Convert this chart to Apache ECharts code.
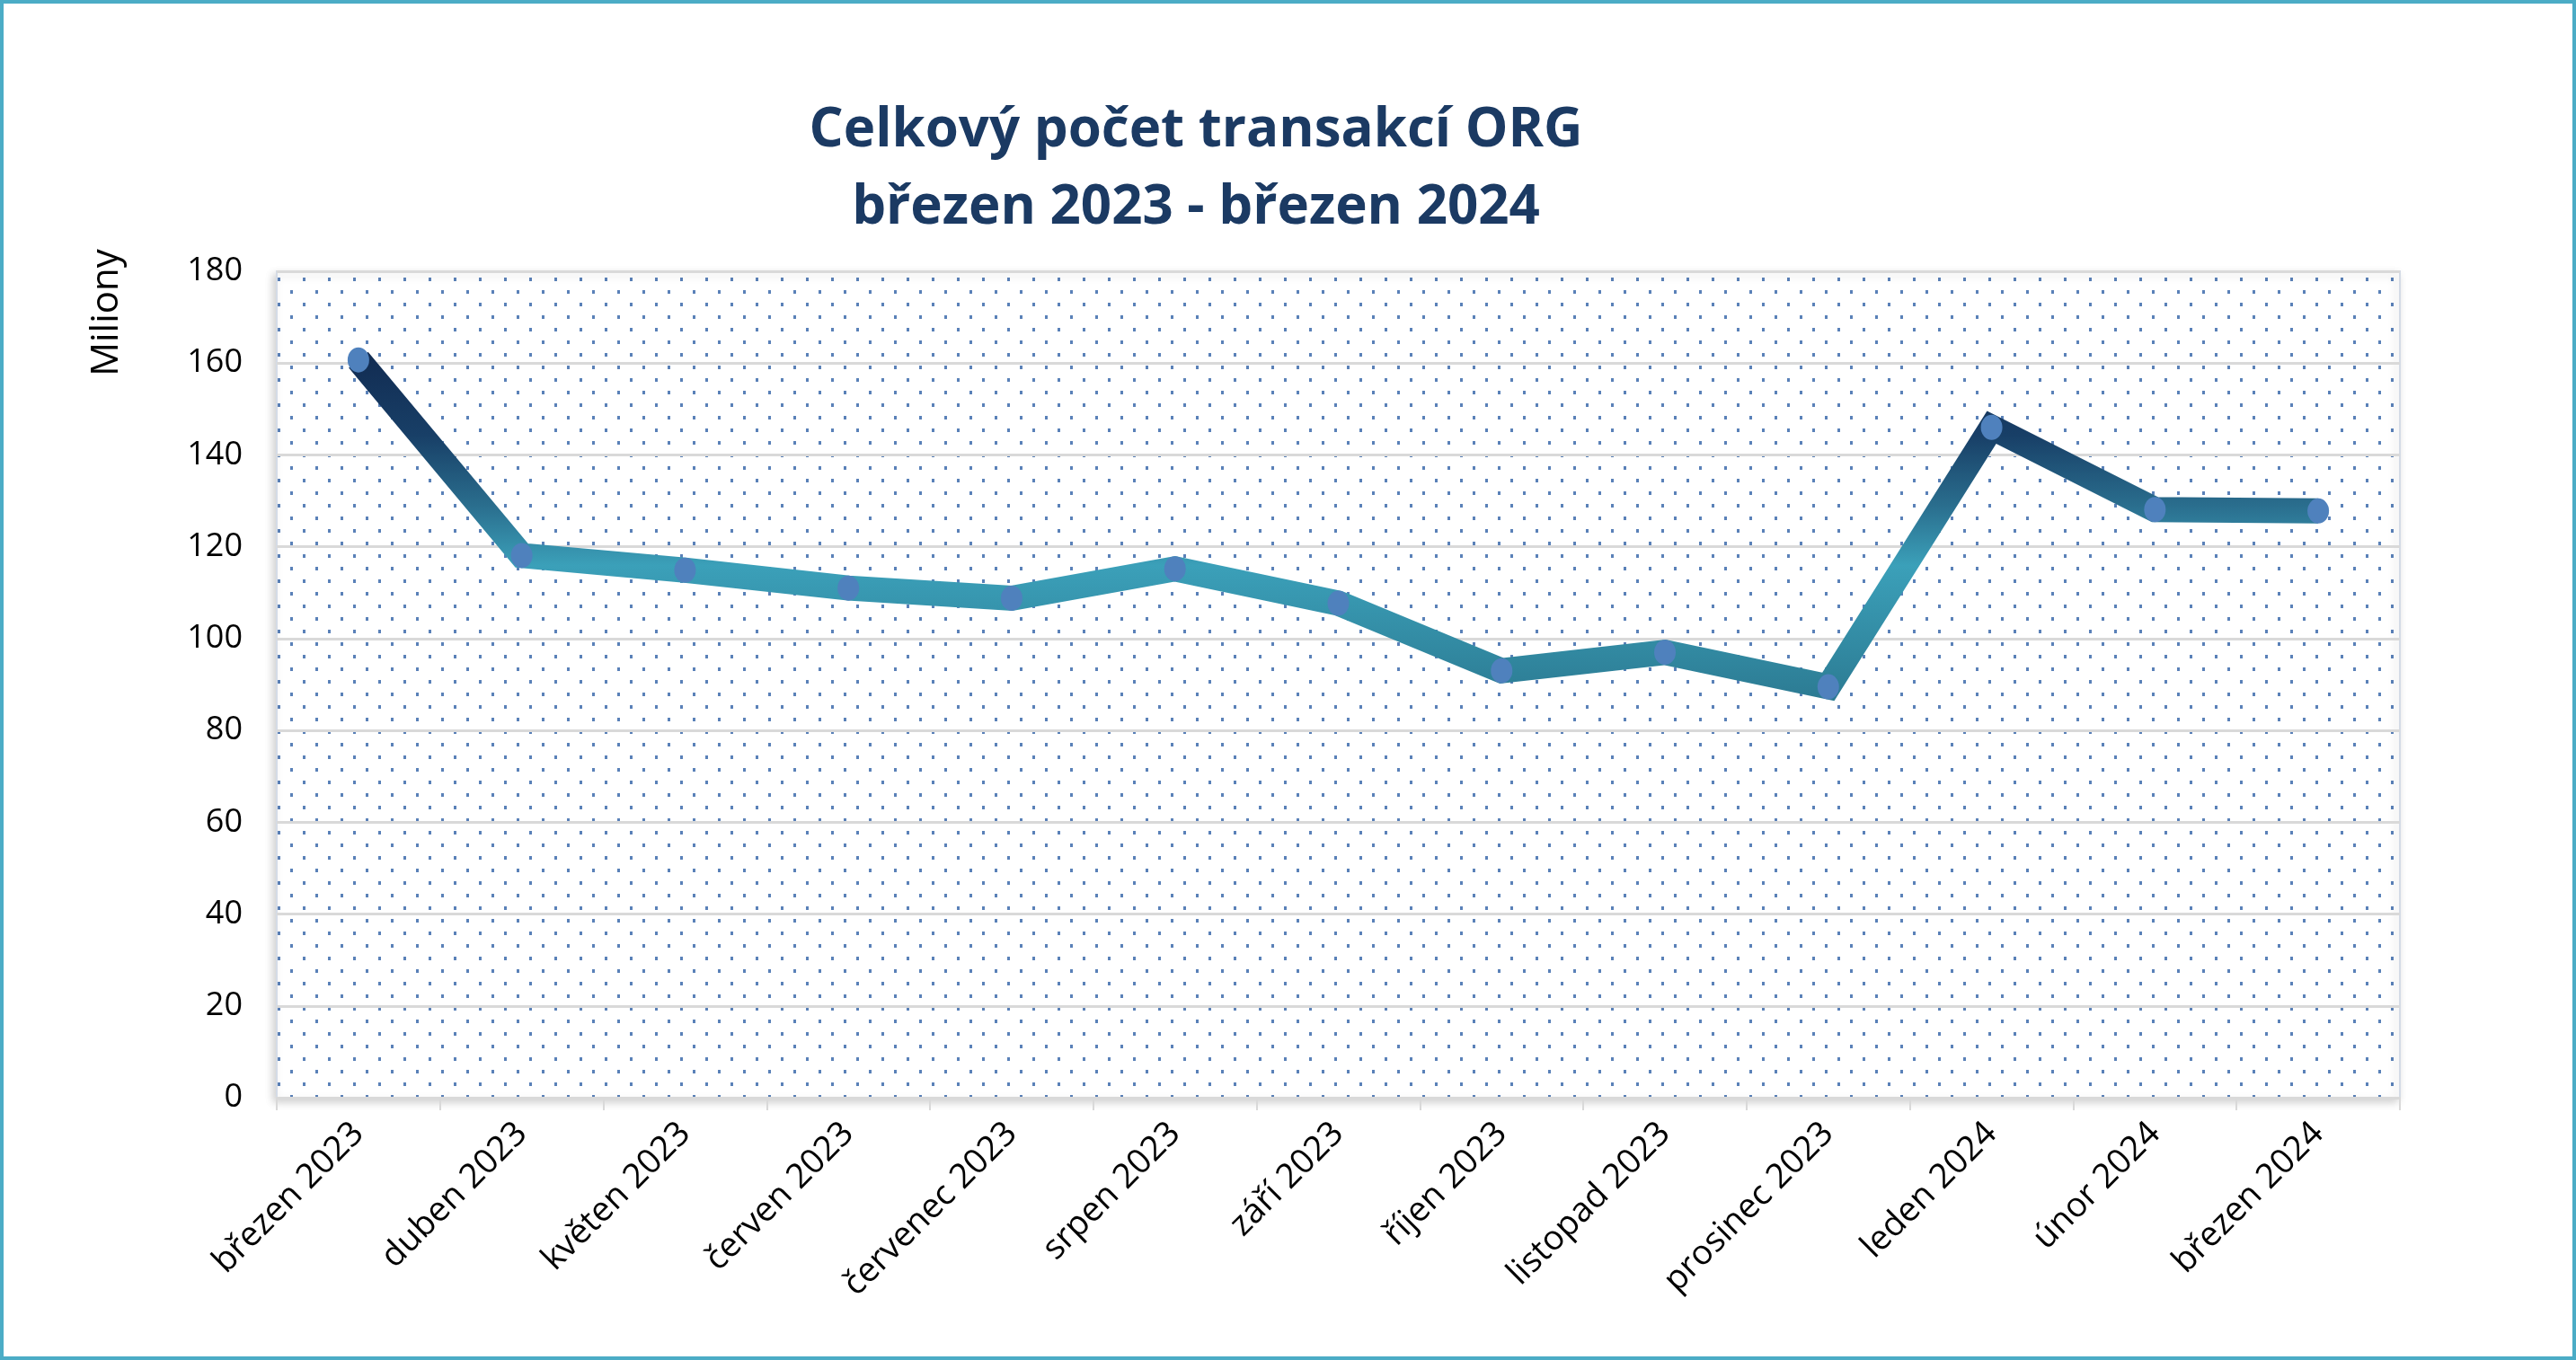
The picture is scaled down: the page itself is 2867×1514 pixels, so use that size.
<!DOCTYPE html>
<html>
<head>
<meta charset="utf-8">
<script src="https://cdn.jsdelivr.net/npm/echarts@6/dist/echarts.min.js"></script>
<style>html,body{margin:0;padding:0;background:#fff;}#c{width:2867px;height:1514px;}</style>
</head>
<body>
<div id="c"></div>
<script>
const categories = ['březen 2023','duben 2023','květen 2023','červen 2023','červenec 2023','srpen 2023','září 2023','říjen 2023','listopad 2023','prosinec 2023','leden 2024','únor 2024','březen 2024'];
const values = [160.7, 118.1, 114.9, 111.0, 108.8, 115.2, 107.7, 93.0, 97.0, 89.5, 146.0, 128.1, 127.8];
const yTicks = [0, 20, 40, 60, 80, 100, 120, 140, 160, 180];
const titleLines = ['Celkový počet transakcí ORG', 'březen 2023 - březen 2024'];
const yName = 'Miliony';

const FONT = '"Open Sans", "Noto Sans", sans-serif';

// dotted pattern tile
const tile = document.createElement('canvas');
tile.width = 28; tile.height = 28;
const tc = tile.getContext('2d');
tc.fillStyle = '#fff';
tc.fillRect(0, 0, 28, 28);
tc.fillStyle = '#5a81b8';
tc.fillRect(1, 1, 3, 4);
tc.fillRect(15, 15, 3, 4);

const chart = echarts.init(document.getElementById('c'));
chart.setOption({
  backgroundColor: '#ffffff',
  animation: false,
  title: {
    text: titleLines.join('\n'),
    left: 1326,
    top: 98,
    textAlign: 'center',
    textStyle: {
      fontFamily: FONT,
      fontWeight: 'bold',
      fontSize: 60,
      color: '#1b3a63',
      lineHeight: 86
    }
  },
  graphic: [
    {
      type: 'rect',
      shape: { x: 2, y: 2, width: 2863, height: 1510 },
      style: { fill: 'none', stroke: '#4bacc6', lineWidth: 4 },
      silent: true,
      z: 100
    },
    {
      type: 'text',
      x: 119, y: 348,
      rotation: Math.PI / 2,
      style: {
        text: yName,
        fontFamily: FONT,
        fontSize: 42,
        fill: '#000',
        align: 'center',
        verticalAlign: 'middle'
      }
    }
  ],
  grid: {
    left: 308,
    right: 196,
    top: 302,
    bottom: 292,
    show: true,
    backgroundColor: { image: tile, repeat: 'repeat' },
    borderColor: '#d4dbe6',
    borderWidth: 2,
    shadowBlur: 10,
    shadowColor: 'rgba(0,0,0,0.18)',
    shadowOffsetX: -3,
    shadowOffsetY: 4
  },
  xAxis: {
    type: 'category',
    data: categories,
    boundaryGap: true,
    axisLine: { show: true, lineStyle: { color: '#d9d9d9', width: 2 } },
    axisTick: { show: true, length: 14, lineStyle: { color: '#d9d9d9', width: 2 } },
    axisLabel: {
      rotate: 45,
      margin: 34,
      fontFamily: FONT,
      fontSize: 38,
      color: '#000'
    },
    splitLine: { show: false }
  },
  yAxis: {
    type: 'value',
    min: yTicks[0],
    max: yTicks[yTicks.length - 1],
    interval: yTicks[1] - yTicks[0],
    axisLine: { show: false },
    axisTick: { show: false },
    axisLabel: {
      margin: 38,
      fontFamily: FONT,
      fontSize: 36,
      color: '#000'
    },
    splitLine: { show: true, lineStyle: { color: '#d9d9d9', width: 3 } }
  },
  series: [{
    type: 'line',
    data: values,
    symbol: 'circle',
    symbolSize: [24, 28],
    showSymbol: true,
    lineStyle: {
      width: 28,
      cap: 'butt',
      join: 'miter',
      color: new echarts.graphic.LinearGradient(0, 0, 0, 1, [
        { offset: 0, color: '#112a50' },
        { offset: 0.25, color: '#183f67' },
        { offset: 0.45, color: '#2a6e8e' },
        { offset: 0.62, color: '#3ba0b9' },
        { offset: 1, color: '#2c7b93' }
      ])
    },
    itemStyle: { color: '#4f81bd', borderWidth: 0 },
    z: 5
  }]
});
</script>
</body>
</html>
